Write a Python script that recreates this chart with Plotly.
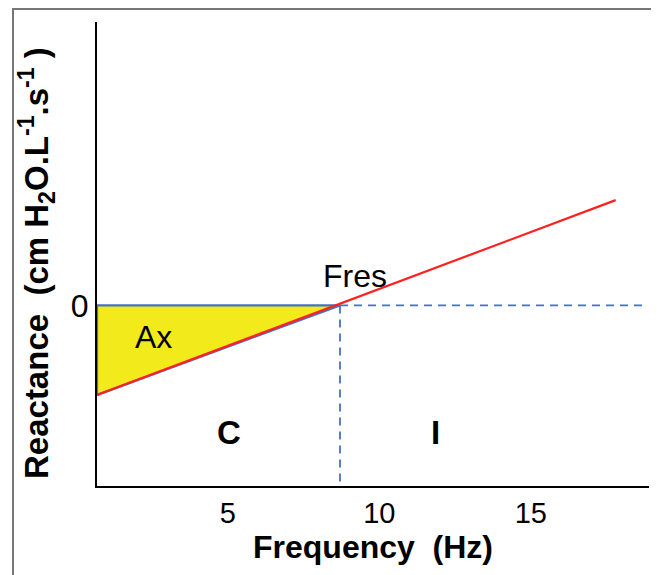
import plotly.graph_objects as go

# Data (arbitrary reactance units)
fres = 8.7
x_start, x_end = 0.68, 17.8
x_max = 18.9
red_x = [x_start, x_end]
red_y = [-3.0, 3.53]
area_x = [x_start, fres, x_start, x_start]
area_y = [0.0, 0.0, -3.0, 0.0]
xtick_vals = [5, 10, 15]
xtick_text = ["5", "10", "15"]
ytick_vals = [0]
ytick_text = ["0"]
x_range = [x_start, x_max]
y_range = [-6.05, 9.5]

fig = go.Figure()
# yellow area Ax
fig.add_trace(go.Scatter(x=area_x, y=area_y, mode="lines", fill="toself",
                         fillcolor="#f2ea1a", line=dict(color="#4472c4", width=2.2),
                         hoverinfo="skip", showlegend=False))
# dashed continuation of zero line
fig.add_trace(go.Scatter(x=[fres, x_max - 0.05], y=[0, 0], mode="lines",
                         line=dict(color="#4472c4", width=1.8, dash="8px,6px"),
                         showlegend=False))
# dashed vertical at Fres
fig.add_trace(go.Scatter(x=[fres, fres], y=[0, y_range[0]], mode="lines",
                         line=dict(color="#4472c4", width=1.8, dash="8px,6px"),
                         showlegend=False))
# red reactance line
fig.add_trace(go.Scatter(x=red_x, y=red_y, mode="lines",
                         line=dict(color="#ff2020", width=2.2), showlegend=False))

font = "Liberation Sans, Arial, sans-serif"
fig.add_annotation(x=2.56, y=-1.07, text="Ax", showarrow=False,
                   font=dict(size=32, color="black", family=font))
fig.add_annotation(x=9.19, y=1.0, text="Fres", showarrow=False,
                   font=dict(size=32, color="black", family=font))
fig.add_annotation(x=5.04, y=-4.26, text="<b>C</b>", showarrow=False,
                   font=dict(size=33, color="black", family=font))
fig.add_annotation(x=11.84, y=-4.26, text="<b>I</b>", showarrow=False,
                   font=dict(size=33, color="black", family=font))
# y-axis title (placed slightly below the plot centre, as in the reference)
fig.add_annotation(xref="paper", yref="paper", x=-0.1105, y=0.4806,
                   xanchor="center", yanchor="middle", textangle=-90, showarrow=False,
                   text="<b>Reactance  (cm H<sub>2</sub>O.L<sup>-1</sup>.s<sup>-1</sup> )</b>",
                   font=dict(size=33, color="black", family=font))

fig.update_xaxes(range=x_range, tickvals=xtick_vals, ticktext=xtick_text,
                 showgrid=False, zeroline=False, showline=True, linecolor="black",
                 linewidth=2, ticks="", automargin=False,
                 tickfont=dict(size=29, family=font, color="black"),
                 title=dict(text="<b>Frequency  (Hz)</b>", standoff=7,
                            font=dict(size=32, family=font, color="black")))
fig.update_yaxes(range=y_range, tickvals=ytick_vals, ticktext=ytick_text,
                 showgrid=False, zeroline=False, showline=True, linecolor="black",
                 linewidth=2, ticks="", automargin=False,
                 tickfont=dict(size=32, family=font, color="black"))

# page body has an 8px margin, so the figure is offset by 8px
fig.update_layout(width=651, height=567, margin=dict(l=89, r=10, t=14, b=89),
                  plot_bgcolor="white", paper_bgcolor="white",
                  shapes=[dict(type="rect", xref="paper", yref="paper",
                               x0=-84/552, x1=561/552, y0=-0.3, y1=1 + 13/464,
                               line=dict(color="#777777", width=2), layer="below")])

fig.write_html("out.html")
